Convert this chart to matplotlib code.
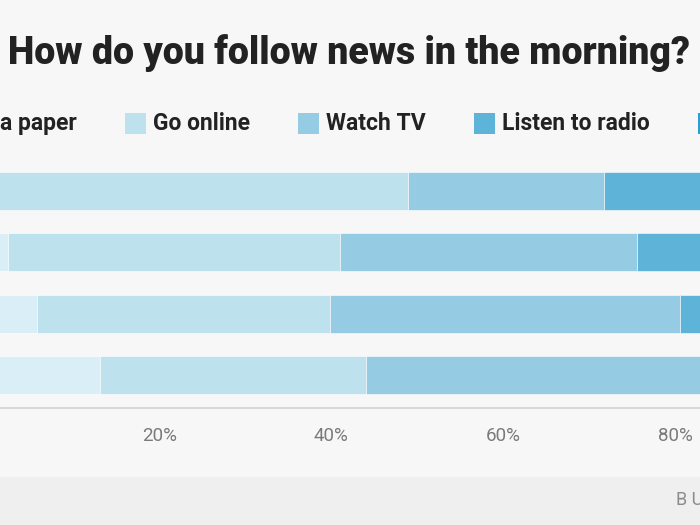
import matplotlib
matplotlib.use("Agg")
import matplotlib.pyplot as plt
from matplotlib.patches import Rectangle
import numpy as np

# ---- data ----
groups = ["18-29", "30-49", "50-64", "65+"]
series_names = ["Read a paper", "Go online", "Watch TV", "Listen to radio", "Other"]
read_paper = [1.0, 2.4, 5.8, 13.1]
go_online = [47.9, 38.6, 34.0, 30.9]
watch_tv = [22.8, 34.5, 40.7, 42.0]
listen_radio = [19.5, 17.0, 14.0, 10.0]
other = [8.8, 7.5, 5.5, 4.0]
xticks = [20, 40, 60, 80]
xtick_labels = ["20%", "40%", "60%", "80%"]

colors = ["#daeef7", "#bde2ee", "#95cce4", "#5eb3d8", "#2b9fd1"]
bg = "#f7f7f7"
W, H = 700, 525

plt.rcParams['font.family'] = ['Roboto', 'DejaVu Sans']
fig = plt.figure(figsize=(7, 5.25), dpi=100, facecolor=bg)

# footer band
fig.patches.append(Rectangle((0, 0), 1, 48 / H, transform=fig.transFigure,
                             facecolor="#efefef", edgecolor="none", zorder=0))
fig.text(676 / W, 1 - 500 / H, "B U S I N E S S", fontsize=13,
         color="#8a8a8a", va="center", ha="left")

# axes extend beyond the canvas, as in the cropped reference
x0_px, x100_px = -12.6, 847.4
ax_left = x0_px / W
ax_width = (x100_px - x0_px) / W
ax_bottom = 1 - 408 / H
ax_height = 250 / H
ax = fig.add_axes([ax_left, ax_bottom, ax_width, ax_height])
ax.set_facecolor(bg)

series = [read_paper, go_online, watch_tv, listen_radio, other]
y = np.arange(len(groups))
left = np.zeros(len(groups))
for name, vals, c in zip(series_names, series, colors):
    ax.barh(y, vals, left=left, height=38 / 62, color=c, edgecolor="#ffffff",
            linewidth=0.4, label=name)
    left += np.array(vals)

ax.set_xlim(0, 100)
ax.set_ylim(len(groups) - 1 + 33 / 62, -33 / 62)
ax.set_yticks(y)
ax.set_yticklabels(groups)
ax.tick_params(axis="y", length=0, labelleft=False)
ax.set_xticks(xticks)
ax.set_xticklabels(xtick_labels, fontsize=13.5, color="#7a7a7a")
ax.tick_params(axis="x", length=0, pad=14)
for s in ["top", "right", "left"]:
    ax.spines[s].set_visible(False)
ax.spines["bottom"].set_color("#dadada")
ax.spines["bottom"].set_linewidth(1.5)

# title
fig.text(349 / W, 1 - 53 / H, "How do you follow news in the morning?",
         fontsize=27, fontweight="heavy", color="#222222", ha="center", va="center")

# legend drawn manually (aligned to reference)
fig.canvas.draw()
renderer = fig.canvas.get_renderer()
leg_y = 1 - 123.5 / H
psize = 21
pad_text = 7
gap = 48
fs_leg = 16.5


def text_width(s):
    t = fig.text(0, 0, s, fontsize=fs_leg, fontweight="bold")
    w = t.get_window_extent(renderer).width
    t.remove()
    return w

x_patch = 125.0
w0 = text_width(series_names[0])
text_right = x_patch - gap
p0 = text_right - w0 - pad_text - psize
entries_x = [p0]
x = x_patch
for name in series_names[1:]:
    entries_x.append(x)
    x = x + psize + pad_text + text_width(name) + gap

for name, c, px in zip(series_names, colors, entries_x):
    fig.patches.append(Rectangle((px / W, leg_y - (psize / 2) / H), psize / W, psize / H,
                                 transform=fig.transFigure, facecolor=c,
                                 edgecolor="none"))
    fig.text((px + psize + pad_text) / W, leg_y, name, fontsize=fs_leg,
             fontweight="bold", color="#222222", va="center", ha="left")

fig.savefig("out.png", dpi=100, facecolor=bg)
